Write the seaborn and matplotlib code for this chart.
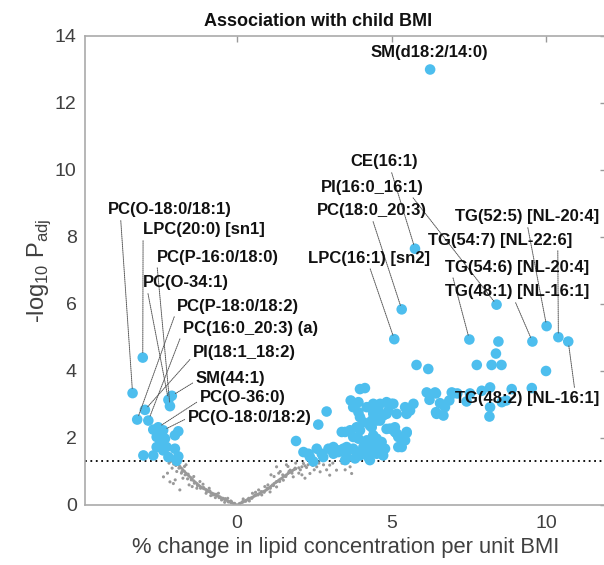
import matplotlib
matplotlib.use("Agg")
import matplotlib.pyplot as plt
import seaborn as sns
import numpy as np

# ---------------- data ----------------
# non-significant lipids (grey)
gray_x = [-0.05, -0.1, -0.15, -0.2, -0.25, -0.3, -0.35, -0.4, -0.45, -0.5, -0.55, -0.6, -0.65, -0.7,
          -0.75, -0.8, -0.85, -0.9, -0.95, -1.0, -1.05, -1.1, -1.15, -1.2, -1.25, -1.3, -1.35, -1.4,
          -1.45, -1.5, -1.55, -1.6, -1.65, -1.7, -1.75, -1.8, -1.85, -1.9, -1.95, -2.0,
          -0.3, -0.5, -0.7, -0.9, -1.0, -1.1, -1.3, -1.4, -1.6, -1.7, -1.8, -1.85, -2.06, -2.17,
          -2.38, -2.1, -2.2, -1.65, -1.95, -1.2, -0.85, -0.6, -0.2, -0.4,
          -0.08, -0.18, -0.28, -0.38, -0.48, -0.58, -0.68, -0.78, -0.88, -0.98, -1.08, -1.18,
          -1.28, -1.38, -1.48, -1.58, -1.68, -1.78, -1.88, -1.98, -2.05, -2.15, -1.55, -1.75,
          -2.25, -2.0, -1.45,
          0.05, 0.1, 0.15, 0.2, 0.25, 0.3, 0.35, 0.4, 0.45, 0.5, 0.55, 0.6, 0.65, 0.7, 0.75, 0.8,
          0.85, 0.9, 0.95, 1.0, 1.05, 1.1, 1.15, 1.2, 1.25, 1.3, 1.35, 1.4, 1.45, 1.5, 1.55, 1.6,
          1.65, 1.7, 1.75, 1.8, 1.85, 1.9, 2.0, 2.1, 2.2, 2.3, 2.4, 2.5,
          0.2, 0.4, 0.6, 0.8, 1.0, 1.07, 1.2, 1.28, 1.28, 1.4, 1.5, 1.6, 1.72, 1.82, 1.9, 2.0,
          2.15, 2.36, 2.5, 2.58, 2.69, 2.8, 3.0, 3.0, 3.22, 3.4, 3.66, 3.71, 2.2, 1.1, 0.9,
          0.08, 0.18, 0.28, 0.38, 0.48, 0.58, 0.68, 0.78, 0.88, 0.98, 1.08, 1.18, 1.28, 1.38,
          1.48, 1.58, 1.68, 1.78, 1.88, 2.05, 2.25, 2.45, 2.65, 1.35, 1.65, 2.1, 2.9, 3.1, 3.5,
          0.5, 0.7]
gray_y = [0.02, 0.04, 0.06, 0.07, 0.1, 0.12, 0.15, 0.16, 0.2, 0.21, 0.24, 0.26, 0.28, 0.3,
          0.33, 0.35, 0.37, 0.4, 0.43, 0.46, 0.48, 0.5, 0.53, 0.56, 0.6, 0.64, 0.68, 0.72,
          0.78, 0.82, 0.86, 0.9, 0.95, 1.0, 1.05, 1.1, 1.15, 1.2, 1.24, 1.28,
          0.2, 0.15, 0.22, 0.5, 0.35, 0.62, 0.5, 0.85, 0.78, 1.15, 0.95, 0.45, 0.64, 0.69,
          0.84, 1.1, 1.25, 1.2, 1.0, 0.7, 0.28, 0.35, 0.12, 0.08,
          0.05, 0.1, 0.09, 0.19, 0.18, 0.22, 0.32, 0.3, 0.42, 0.4, 0.52, 0.5,
          0.58, 0.65, 0.75, 0.92, 0.9, 1.0, 1.1, 1.18, 1.22, 1.3, 0.6, 0.8,
          0.95, 0.75, 0.55,
          0.02, 0.05, 0.07, 0.09, 0.12, 0.14, 0.17, 0.19, 0.21, 0.23, 0.26, 0.28, 0.31, 0.33, 0.35, 0.38,
          0.4, 0.42, 0.45, 0.48, 0.52, 0.56, 0.6, 0.64, 0.67, 0.7, 0.74, 0.77, 0.8, 0.84, 0.87, 0.9,
          0.94, 0.97, 1.0, 1.03, 1.06, 1.08, 1.11, 1.14, 1.17, 1.2, 1.24, 1.28,
          0.18, 0.12, 0.38, 0.3, 0.6, 0.39, 0.85, 0.54, 1.14, 1.0, 0.74, 1.2, 1.04, 0.84, 1.25, 0.95,
          1.24, 0.94, 1.05, 1.14, 0.99, 1.2, 0.89, 1.19, 1.04, 1.25, 1.14, 0.94, 0.8, 0.9, 0.55,
          0.04, 0.1, 0.11, 0.2, 0.2, 0.3, 0.3, 0.4, 0.38, 0.5, 0.5, 0.58, 0.7, 0.7,
          0.9, 0.85, 1.0, 0.95, 1.1, 1.05, 1.12, 1.18, 1.25, 0.95, 1.15, 0.9, 1.05, 1.25, 1.05,
          0.35, 0.45]

# significant lipids without label (blue)
sig_x = [-3.03, -2.71, -2.55, -2.39, -2.60, -2.33, -2.44, -1.90, -2.01, -2.28, -2.01, -2.60,
         -2.39, -2.71, -2.22, -1.90, -1.95,
         1.91, 2.15, 2.36, 2.47, 2.58, 2.74, 2.79, 2.96, 3.12, 3.28, 3.44, 3.55, 3.55, 3.50, 3.12,
         3.28, 2.31, 2.63, 2.90, 3.39, 3.50, 3.66, 3.68, 3.98, 4.14, 3.76, 3.93, 3.82, 3.87, 3.98,
         4.09, 3.60, 3.76, 4.09, 4.36, 4.25, 4.30, 4.47, 3.93, 3.76, 3.98, 3.93, 4.20, 4.30, 4.41,
         4.63, 4.84, 5.06, 4.90, 4.73, 4.52, 4.09, 4.30, 3.87, 3.98, 4.20, 4.41, 4.14, 4.30, 4.52,
         4.73, 4.30, 4.52, 4.30, 4.73, 4.95, 5.11, 5.22, 5.44, 5.49, 5.22, 5.44, 5.71, 5.60, 4.41,
         5.00, 4.57, 4.41, 4.84, 5.17, 5.49, 4.36, 4.63, 4.36, 4.84, 5.11, 5.17, 4.52, 4.68, 4.79,
         4.41, 5.33, 5.81, 6.19, 6.14, 6.44, 7.00, 7.13, 7.54, 7.92, 8.19, 8.89, 9.54, 6.41, 6.95,
         6.23, 6.87, 7.43, 6.57, 8.57, 8.71, 8.19, 8.17, 6.44, 6.68, 6.73, 6.46, 5.49, 8.46, 8.38,
         7.76, 8.24, 8.56, 10.00]
sig_y = [1.48, 2.25, 2.03, 1.98, 2.03, 1.98, 1.88, 2.20, 2.08, 1.73, 1.68, 1.73,
         1.63, 1.48, 1.43, 1.45, 1.32,
         1.91, 1.58, 1.43, 1.30, 1.68, 1.53, 1.43, 1.68, 1.53, 1.63, 1.68, 1.73, 1.43, 1.34, 1.73,
         1.58, 1.53, 2.40, 2.79, 2.18, 2.18, 2.23, 3.12, 3.46, 3.49, 2.03, 1.98, 1.39, 1.58, 1.48,
         1.53, 1.63, 1.68, 1.73, 1.63, 1.43, 1.88, 1.78, 3.07, 2.92, 2.62, 2.77, 2.92, 2.92, 2.82,
         3.02, 3.07, 3.02, 2.82, 2.67, 2.52, 2.47, 2.37, 2.32, 2.23, 1.93, 2.08, 1.78, 1.73, 1.68,
         1.68, 1.58, 1.53, 1.34, 1.48, 2.28, 2.18, 2.03, 1.93, 2.18, 1.73, 2.92, 3.02, 2.82, 3.02,
         3.02, 2.87, 2.72, 2.72, 2.72, 2.72, 2.52, 2.52, 2.32, 2.27, 2.32, 2.13, 1.98, 1.88, 1.68,
         1.78, 1.73, 4.18, 4.06, 3.36, 3.33, 3.33, 3.33, 3.33, 3.41, 3.51, 3.46, 3.49, 3.36, 3.36,
         3.14, 3.12, 3.09, 3.04, 3.07, 3.12, 2.92, 2.64, 2.77, 2.67, 2.92, 2.72, 2.15, 4.88, 4.52,
         4.18, 4.18, 4.18, 4.00]

# labelled significant lipids
lab_names = ["SM(d18:2/14:0)", "CE(16:1)", "PI(16:0_16:1)", "PC(18:0_20:3)", "LPC(16:1) [sn2]",
             "TG(52:5) [NL-20:4]", "TG(54:7) [NL-22:6]", "TG(54:6) [NL-20:4]", "TG(48:1) [NL-16:1]",
             "TG(48:2) [NL-16:1]",
             "PC(O-18:0/18:1)", "LPC(20:0) [sn1]", "PC(P-16:0/18:0)", "PC(O-34:1)", "PC(P-18:0/18:2)",
             "PC(16:0_20:3) (a)", "PI(18:1_18:2)", "SM(44:1)", "PC(O-36:0)", "PC(O-18:0/18:2)"]
lab_x = [6.25, 5.76, 8.40, 5.33, 5.09, 10.02, 10.40, 7.52, 9.56, 10.72,
         -3.38, -3.05, -2.17, -2.22, -3.23, -2.87, -2.98, -2.11, -2.55, -2.39]
lab_y = [13.0, 7.65, 5.98, 5.84, 4.95, 5.34, 5.01, 4.94, 4.88, 4.88,
         3.34, 4.40, 2.95, 3.14, 2.55, 2.52, 2.84, 3.26, 2.32, 2.23]

# ---------------- layout (text placement) ----------------
text_pos = [(6.21, 13.52), (3.66, 10.24), (2.72, 9.49), (2.59, 8.78), (2.30, 7.37),
            (7.06, 8.60), (6.18, 7.91), (6.73, 7.10), (6.73, 6.36), (7.06, 3.19),
            (-4.17, 8.81), (-3.04, 8.21), (-2.59, 7.40), (-3.04, 6.63), (-1.94, 5.94),
            (-1.75, 5.28), (-1.42, 4.54), (-1.33, 3.79), (-1.20, 3.22), (-1.59, 2.60)]
rel_pos = [None, (0.6, 0), (0.87, 0), (0.5, 0), (0.5, 0),
           (0.5, 0), (0.9, 0), (0.05, 0), (0.48, 0), (0.83, 1),
           (0.1, 0), (0.0, 0), (0.0, 0), (0.05, 0), (0.0, 0.3),
           (0.0, 0.3), (0.0, 0.3), (0.0, 0.3), (0.0, 0.3), (0.0, 0.5)]

# ---------------- plot ----------------
sns.set_style("white")
plt.rcParams["font.family"] = ["Liberation Sans", "DejaVu Sans"]

fig = plt.figure(figsize=(6.04, 5.65), dpi=100)
ax = fig.add_axes([0.1407, 0.1062, 0.862, 0.8301])

sns.scatterplot(x=gray_x, y=gray_y, color="#999999", s=5, edgecolor="none", marker="o",
                ax=ax, zorder=2, legend=False)
sns.scatterplot(x=sig_x + lab_x, y=sig_y + lab_y, color="#4DBEEE", s=58, edgecolor="none",
                ax=ax, zorder=3, legend=False)

ax.axhline(1.3, color="black", linestyle=(0, (1, 2)), linewidth=1.3, zorder=1)

for name, px, py, (tx, ty), rp in zip(lab_names, lab_x, lab_y, text_pos, rel_pos):
    if rp is None:
        ax.text(tx, ty, name, ha="center", va="center", fontsize=12, fontweight="bold",
                color="#111111")
        continue
    ax.annotate(name, xy=(px, py), xytext=(tx, ty), textcoords="data",
                ha="left", va="center", fontsize=12, fontweight="bold", color="#111111",
                arrowprops=dict(arrowstyle="-", color="#555555", lw=0.7,
                                linestyle=(0, (1, 1)), shrinkA=0, shrinkB=3, relpos=rp),
                zorder=4)

ax.set_xlim(-4.92, 11.93)
ax.set_ylim(0, 14)
ax.set_xticks([0, 5, 10])
ax.set_yticks([0, 2, 4, 6, 8, 10, 12, 14])
ax.tick_params(direction="in", top=True, right=True, length=4, width=1, color="#999999",
               labelsize=14, labelcolor="#404040", pad=7)
ax.tick_params(axis="y", pad=6)
for sp in ax.spines.values():
    sp.set_color("#aaaaaa")
    sp.set_linewidth(1.2)

ax.set_xlabel("% change in lipid concentration per unit BMI", fontsize=15.8, color="#404040",
              labelpad=4)
ax.set_ylabel(r"-log$_{\mathregular{10}}$ P$_{\mathregular{adj}}$", fontsize=17,
              color="#404040", labelpad=1)
ax.set_title("Association with child BMI", fontsize=13, fontweight="bold", color="#111111",
             pad=7, x=0.448)

fig.savefig("out.png", dpi=100)
